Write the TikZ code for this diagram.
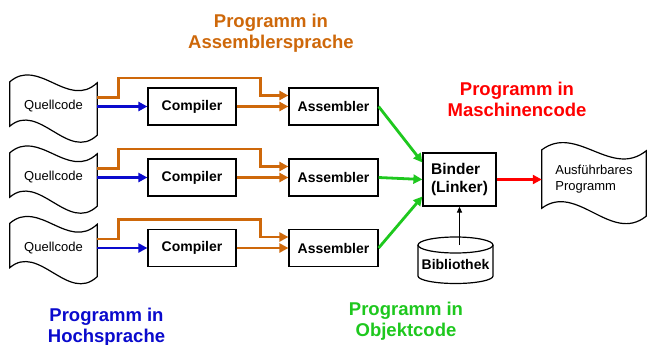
\documentclass[tikz,border=0pt]{standalone}
\usepackage{fontspec}
\setmainfont{Liberation Sans}
\usetikzlibrary{arrows.meta,calc}
\definecolor{asmorange}{RGB}{206,104,10}
\definecolor{hlblue}{RGB}{10,10,205}
\definecolor{objgreen}{RGB}{30,200,30}
\definecolor{mcred}{RGB}{255,0,0}

\begin{document}
\begin{tikzpicture}[x=1pt,y=-1pt,
  outline/.style={draw=black, line width=1.2pt},
  box/.style={outline, minimum width=88pt, minimum height=37pt, inner sep=0pt,
    font=\fontsize{14}{16}\selectfont\bfseries},
  doc/.style={minimum width=87pt, minimum height=52pt, inner sep=0pt,
    font=\fontsize{13}{16}\selectfont},
  flow/.style={line width=2.8pt, -{Triangle[length=9pt,width=9pt]}},
  thinarrow/.style={line width=1.2pt, -{Triangle[length=6pt,width=5pt]}},
  label/.style={anchor=north, align=center, inner sep=0pt,
    font=\fontsize{18.5}{21}\selectfont\bfseries}
]
\fill[white] (0,0) rectangle (648,345);
\useasboundingbox (0,0) rectangle (648,345);

% three source -> compiler -> assembler chains
\foreach \i/\y in {1/106.5, 2/177.5, 3/248} {
  \node[doc] (q\i) at (53.5,\y) {Quellcode};
  \node[box] (c\i) at (192,\y) {Compiler};
  \node[box, minimum width=89pt] (a\i) at (333.5,\y) {Assembler};
  \draw[outline] ($(q\i.north west)+(0,1.5)$)
      .. controls +(29,-25) and +(-29,27) .. ($(q\i.north east)+(0,2.5)$)
      -- ($(q\i.south east)+(0,2.5)$)
      .. controls +(-29,27) and +(29,-25) .. ($(q\i.south west)+(0,-6.5)$)
      -- cycle;
  \draw[flow, hlblue] (q\i.east) -- (c\i.west);
  \draw[flow, asmorange] (c\i.east) -- (a\i.west);
  \draw[flow, asmorange] ($(q\i.east)+(0,-9)$) -- ++(21,0)
      |- ($(a\i.west)+(-28,-28.5)$) |- ($(a\i.west)+(0,-11)$);
}

% linker
\node[outline, minimum width=73pt, minimum height=53pt, inner sep=0pt, align=left,
  font=\fontsize{15.5}{17.5}\selectfont\bfseries] (binder) at (459.5,179.5) {Binder\\(Linker)};

\draw[flow, objgreen] (a1.east) -- ($(binder.west)+(0,-17)$);
\draw[flow, objgreen] (a2.east) -- (binder.west);
\draw[flow, objgreen] (a3.east) -- ($(binder.west)+(0,17)$);

% executable program
\node[minimum width=104pt, minimum height=58pt, inner sep=0pt, align=left,
  font=\fontsize{13}{16}\selectfont] (out) at (594,179) {Ausführbares\\Programm};
\draw[outline] (out.north west)
    .. controls +(35,-26) and +(-35,28) .. ($(out.north east)+(0,1)$)
    -- ($(out.south east)+(0,8)$)
    .. controls +(-35,28) and +(35,-26) .. (out.south west)
    -- cycle;
\draw[flow, mcred] (binder.east) -- (binder.east -| out.west);

% library cylinder
\node[inner sep=0pt, font=\fontsize{14}{16}\selectfont\bfseries] (bib) at (455.5,264) {Bibliothek};
\coordinate (bibtop) at ($(bib.center)+(0,-19)$);
\draw[outline] ($(bib.center)+(-37.5,-19)$) -- ($(bib.center)+(-37.5,12)$)
    arc[start angle=180, end angle=360, x radius=37.5pt, y radius=7.5pt]
    -- ($(bib.center)+(37.5,-19)$);
\draw[outline] (bibtop) ellipse [x radius=37.5pt, y radius=8pt];
\draw[thinarrow] (binder.south |- bibtop) -- (binder.south);

% category labels
\node[label, asmorange] (lasm) at (271,13.5) {Programm in\\Assemblersprache};
\node[label, mcred] (lmc) at (517,81.5) {Programm in\\Maschinencode};
\node[label, hlblue] (lhl) at (106.5,308) {Programm in\\Hochsprache};
\node[label, objgreen] (lobj) at (406,301.5) {Programm in\\Objektcode};
\end{tikzpicture}
\end{document}
